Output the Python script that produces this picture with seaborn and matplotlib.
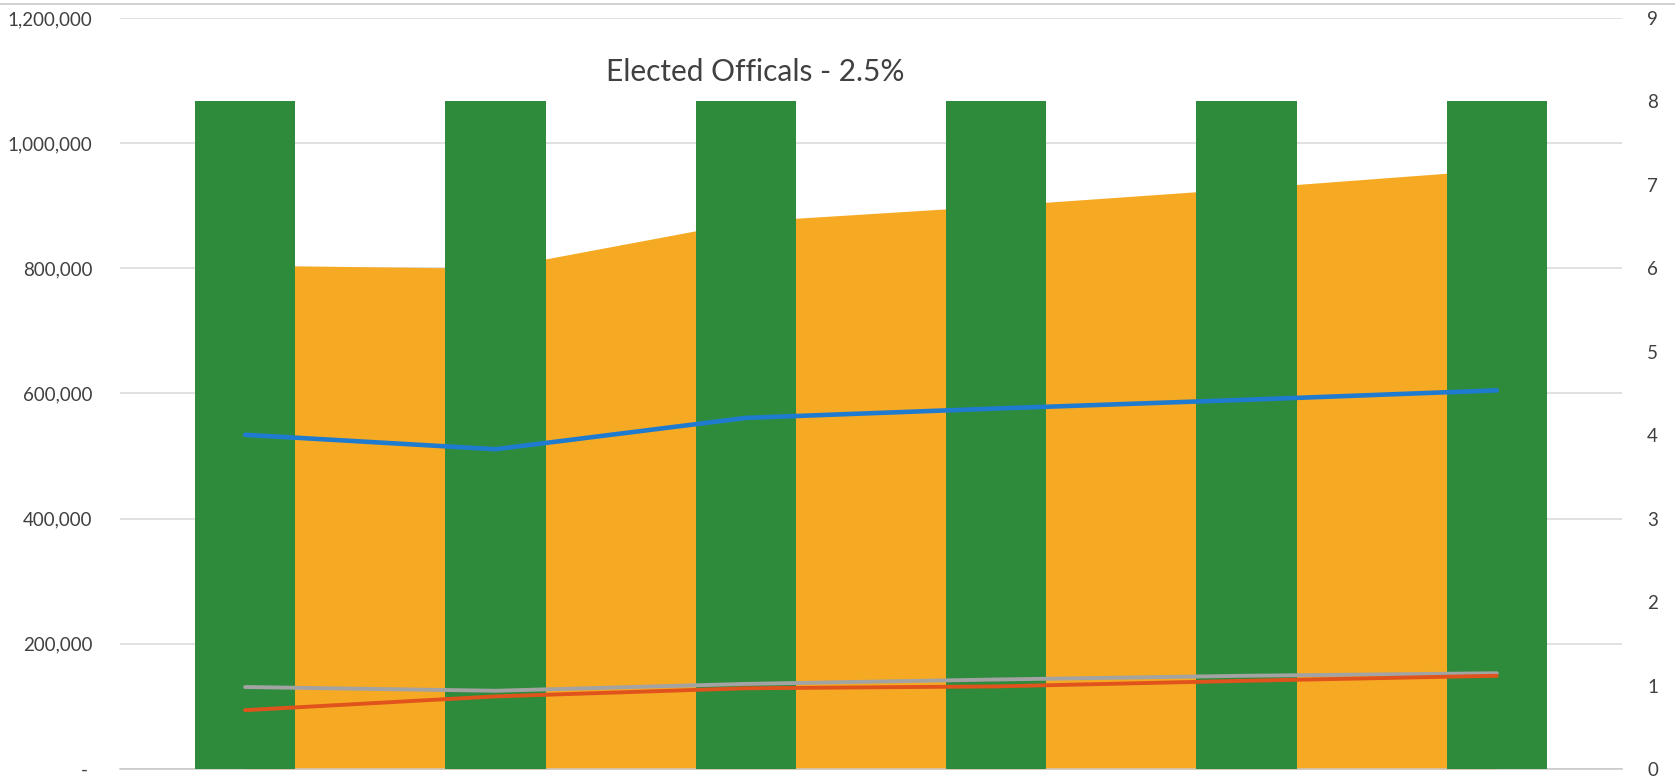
import numpy as np
import pandas as pd
import matplotlib
matplotlib.use("Agg")
import matplotlib.pyplot as plt
from matplotlib.ticker import FuncFormatter
from matplotlib.lines import Line2D
import seaborn as sns

# Category keys (one per column group)
years = ["2016", "2017", "2018", "2019", "2020", "2021"]

# Secondary-axis columns
officials = [8, 8, 8, 8, 8, 8]

# Primary-axis series
area_total = [805000, 800000, 875000, 900000, 928000, 958000]
blue_series = [534000, 511000, 561000, 576000, 590000, 605000]
gray_series = [131000, 125000, 136000, 143000, 149000, 153000]
red_series = [94000, 116000, 129000, 132000, 141000, 149000]

GREEN = "#2E8B3C"
ORANGE = "#F6AA23"
BLUE = "#1F7BCF"
GRAY = "#A3A3A3"
RED = "#E0531C"
TEXT = "#404040"

sns.set_style("white")
plt.rcParams["font.family"] = ["Lato", "DejaVu Sans"]

fig = plt.figure(figsize=(16.75, 7.77), dpi=100)
ax = fig.add_axes([120 / 1675, 8 / 777, 1502 / 1675, 751 / 777])

df = pd.DataFrame({
    "year": years,
    "pos": np.arange(len(years)),
    "officials": officials,
    "area": area_total,
    "blue": blue_series,
    "gray": gray_series,
    "red": red_series,
})

# Area on the primary axis (bottom layer)
ax.fill_between(df["pos"], 0, df["area"], color=ORANGE, lw=0, zorder=1)
ax.set_ylim(0, 1200000)
ax.set_xlim(-0.5, len(years) - 0.5)
ax.set_yticks(np.arange(0, 1200001, 200000))
ax.yaxis.set_major_formatter(FuncFormatter(lambda v, p: "- " if v == 0 else f"{v:,.0f}"))
ax.yaxis.grid(True, color="#D9D9D9", lw=1.1)
ax.set_axisbelow(True)
ax.tick_params(axis="y", length=0, pad=20, labelsize=13.5, labelcolor=TEXT)
for s in ["left", "right", "top"]:
    ax.spines[s].set_visible(False)
ax.spines["bottom"].set_color("#C8C8C8")
ax.spines["bottom"].set_linewidth(1.1)

# Columns on the secondary axis
ax2 = ax.twinx()
sns.barplot(data=df, x="pos", y="officials", ax=ax2, color=GREEN,
            saturation=1, width=0.4, native_scale=True, linewidth=0,
            edgecolor=GREEN, zorder=2)
ax2.set_ylim(0, 9)
ax2.set_yticks(range(10))
ax2.tick_params(axis="y", length=0, pad=18, labelsize=13.5, labelcolor=TEXT)
ax2.set_ylabel("")
ax2.set_xlabel("")
for s in ax2.spines.values():
    s.set_visible(False)

# Lines on top, sharing the primary scale
ax3 = ax.twinx()
ax3.set_ylim(ax.get_ylim())
for col, c, w in [("blue", BLUE, 3.3), ("gray", GRAY, 2.8), ("red", RED, 2.8)]:
    sns.lineplot(data=df, x="pos", y=col, ax=ax3, color=c, lw=w,
                 solid_capstyle="round")
ax3.set_ylabel("")
ax3.set_xlabel("")
ax3.set_yticks([])
for s in ax3.spines.values():
    s.set_visible(False)

# Category boundary ticks on the horizontal axis
ax.set_xlim(-0.5, len(years) - 0.5)
ax.set_xticks(np.arange(-0.5, len(years), 1.0))
ax.set_xticklabels([])
ax.set_xlabel("")
ax.tick_params(axis="x", direction="out", length=8, color="#C8C8C8", width=1.1)
ax2.tick_params(axis="x", length=0)
ax3.tick_params(axis="x", length=0)

fig.text(755 / 1675, 1 - 72 / 777, "Elected Officals - 2.5%", ha="center",
         va="center", fontsize=21.5, color="#404040")

# Chart border along the top
fig.add_artist(Line2D([0, 1], [1 - 4 / 777, 1 - 4 / 777], color="#C8C8C8", lw=1.2))

fig.savefig("out.png", dpi=100)
